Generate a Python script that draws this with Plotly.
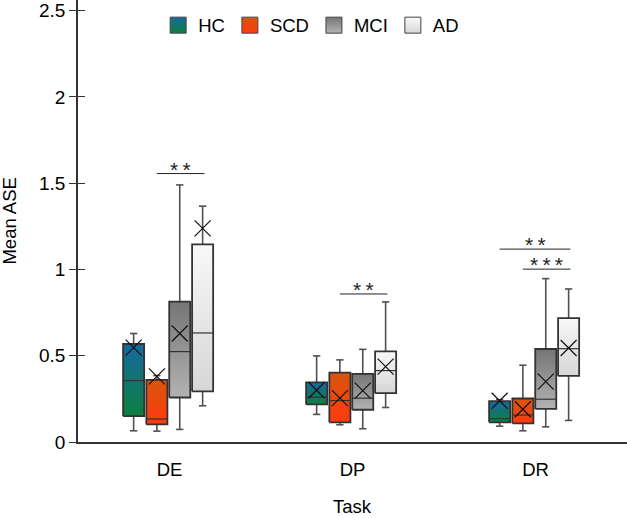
import plotly.graph_objects as go

# ---------------- data ----------------
tasks = ["DE", "DP", "DR"]
groups = ["HC", "SCD", "MCI", "AD"]

hc_lower = [0.065, 0.16, 0.092]
hc_q1 = [0.15, 0.218, 0.114]
hc_median = [0.356, 0.26, 0.135]
hc_q3 = [0.568, 0.346, 0.237]
hc_upper = [0.629, 0.499, 0.245]
hc_mean = [0.547, 0.30, 0.239]

scd_lower = [0.063, 0.10, 0.065]
scd_q1 = [0.102, 0.114, 0.108]
scd_median = [0.133, 0.24, 0.156]
scd_q3 = [0.36, 0.402, 0.252]
scd_upper = [0.385, 0.476, 0.445]
scd_mean = [0.38, 0.254, 0.19]

mci_lower = [0.073, 0.077, 0.088]
mci_q1 = [0.258, 0.187, 0.192]
mci_median = [0.524, 0.254, 0.248]
mci_q3 = [0.814, 0.395, 0.539]
mci_upper = [1.49, 0.537, 0.947]
mci_mean = [0.629, 0.298, 0.35]

ad_lower = [0.21, 0.20, 0.125]
ad_q1 = [0.293, 0.283, 0.383]
ad_median = [0.632, 0.414, 0.541]
ad_q3 = [1.146, 0.525, 0.718]
ad_upper = [1.367, 0.812, 0.887]
ad_mean = [1.238, 0.437, 0.545]

# significance brackets: (task, from group, to group, y, label)
sig_task = ["DE", "DP", "DR", "DR"]
sig_from = ["SCD", "SCD", "HC", "SCD"]
sig_to = ["AD", "AD", "AD", "AD"]
sig_y = [1.556, 0.858, 1.118, 1.002]
sig_label = ["*\u2009*", "*\u2009*", "*\u2009*", "*\u2009*\u2009*"]

yticks = [0, 0.5, 1, 1.5, 2, 2.5]
ytick_text = ["0", "0.5", "1", "1.5", "2", "2.5"]
x_title = "Task"
y_title = "Mean ASE"

# ---------------- styles ----------------
stats = {
    "HC": (hc_lower, hc_q1, hc_median, hc_q3, hc_upper, hc_mean),
    "SCD": (scd_lower, scd_q1, scd_median, scd_q3, scd_upper, scd_mean),
    "MCI": (mci_lower, mci_q1, mci_median, mci_q3, mci_upper, mci_mean),
    "AD": (ad_lower, ad_q1, ad_median, ad_q3, ad_upper, ad_mean),
}
# (bottom colour, top colour)
grad = {
    "HC": ("#0e8040", "#1668a0"),
    "SCD": ("#ff3a10", "#d8560c"),
    "MCI": ("#b2b2b2", "#767676"),
    "AD": ("#d6d6d6", "#f8f8f8"),
}
offsets = {"HC": -0.196, "SCD": -0.069, "MCI": 0.056, "AD": 0.181}
half_w = 0.0575
cap_w = 0.02
FONT = "Liberation Sans, Arial, sans-serif"
YRANGE = [0, 2.562]

fig = go.Figure()

for g in groups:
    lo, q1, med, q3, up, mn = stats[g]
    wx, wy = [], []
    for i in range(len(tasks)):
        c = i + offsets[g]
        wx += [c, c, None, c, c, None,
               c - cap_w, c + cap_w, None, c - cap_w, c + cap_w, None]
        wy += [q3[i], up[i], None, q1[i], lo[i], None,
               up[i], up[i], None, lo[i], lo[i], None]
    fig.add_trace(go.Scatter(x=wx, y=wy, mode="lines",
                             line=dict(color="#505050", width=1.6),
                             showlegend=False, hoverinfo="skip"))

for g in groups:
    lo, q1, med, q3, up, mn = stats[g]
    for i in range(len(tasks)):
        c = i + offsets[g]
        fig.add_trace(go.Scatter(
            x=[c - half_w, c + half_w, c + half_w, c - half_w, c - half_w],
            y=[q1[i], q1[i], q3[i], q3[i], q1[i]],
            mode="lines", fill="toself",
            fillgradient=dict(type="vertical",
                              colorscale=[[0, grad[g][0]], [1, grad[g][1]]]),
            line=dict(color="#333333", width=1.8),
            showlegend=False, hoverinfo="skip"))
    mx, my = [], []
    for i in range(len(tasks)):
        c = i + offsets[g]
        mx += [c - half_w, c + half_w, None]
        my += [med[i], med[i], None]
    fig.add_trace(go.Scatter(x=mx, y=my, mode="lines",
                             line=dict(color="#333333", width=1.2),
                             showlegend=False, hoverinfo="skip"))
    fig.add_trace(go.Scatter(
        x=[i + offsets[g] for i in range(len(tasks))], y=mn, mode="markers",
        marker=dict(symbol="x-thin", size=16,
                    line=dict(color="#111111", width=1.2)),
        showlegend=False, hoverinfo="skip"))

# legend entries
for g in groups:
    fig.add_trace(go.Scatter(
        x=[None], y=[None], mode="markers", name=g,
        marker=dict(symbol="square", size=18, color=grad[g][1],
                    gradient=dict(type="vertical", color=grad[g][0]),
                    line=dict(color="#444444", width=1))))

# significance brackets
for t, gf, gt, yv, lab in zip(sig_task, sig_from, sig_to, sig_y, sig_label):
    ci = tasks.index(t)
    x0 = ci + offsets[gf]
    x1 = ci + offsets[gt] + 0.01
    fig.add_trace(go.Scatter(x=[x0, x1], y=[yv, yv], mode="lines",
                             line=dict(color="#222222", width=1),
                             showlegend=False, hoverinfo="skip"))
    fig.add_annotation(x=(x0 + x1) / 2, y=yv, text=lab, showarrow=False,
                       yanchor="bottom", yshift=-9,
                       font=dict(family=FONT, size=21, color="#222222"))

# axis titles
fig.add_annotation(xref="paper", yref="paper", x=0.5, y=-0.146,
                   xanchor="center", yanchor="middle", showarrow=False,
                   text=x_title, font=dict(family=FONT, size=18.5, color="black"))
fig.add_annotation(xref="paper", yref="paper", x=-0.1265, y=0.5,
                   xanchor="center", yanchor="middle", showarrow=False,
                   textangle=-90, text=y_title,
                   font=dict(family=FONT, size=18.5, color="black"))

# invisible trace to carry the inside-tick overlay axis
fig.add_trace(go.Scatter(x=[None], y=[None], yaxis="y2",
                         showlegend=False, hoverinfo="skip"))

fig.update_layout(
    width=627, height=518,
    margin=dict(l=78, r=0, t=0, b=76),
    paper_bgcolor="white", plot_bgcolor="white",
    font=dict(family=FONT, size=18.5, color="black"),
    legend=dict(orientation="h", x=0.146, xanchor="left",
                y=0.985, yanchor="top",
                font=dict(family=FONT, size=18.5, color="black"),
                bgcolor="rgba(0,0,0,0)"),
    xaxis=dict(range=[-0.5, 2.5], tickvals=[0, 1, 2], ticktext=tasks,
               showline=True, linecolor="#333333", linewidth=1.5,
               ticks="", showgrid=False, zeroline=False, automargin=False,
               ticklabelstandoff=10),
    yaxis=dict(range=YRANGE, tickvals=yticks, ticktext=ytick_text,
               showline=True, linecolor="#333333", linewidth=1.5,
               ticks="outside", ticklen=7, tickcolor="#333333", tickwidth=1.2,
               showgrid=False, zeroline=False, automargin=False,
               ticklabeloverflow="allow", tickfont=dict(size=19)),
    yaxis2=dict(range=YRANGE, tickvals=yticks, overlaying="y", side="left",
                anchor="x", showline=False, showgrid=False, zeroline=False,
                ticks="inside", ticklen=7, tickcolor="#333333", tickwidth=1.2,
                showticklabels=False, automargin=False),
)

fig.write_html("out.html",
               config={"displayModeBar": False},
               post_script="document.body.style.margin='0';")
